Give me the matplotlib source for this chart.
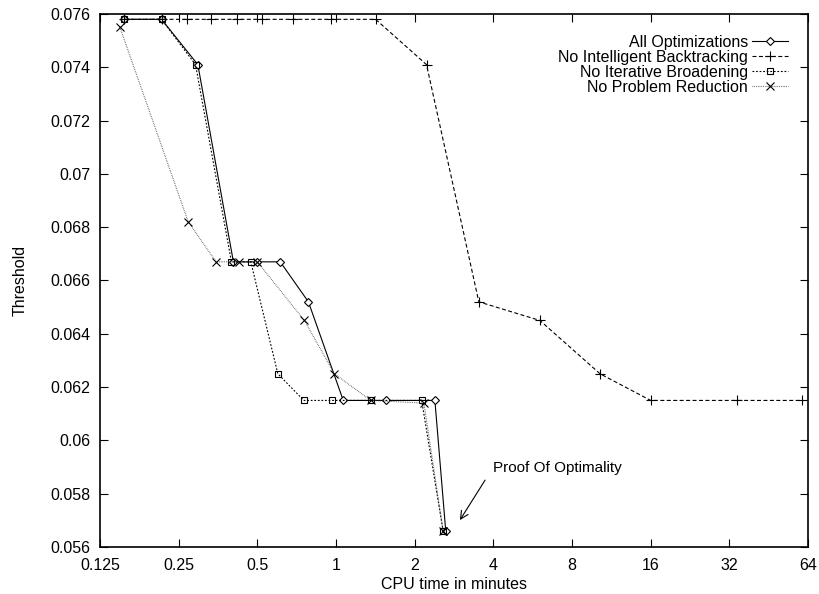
import matplotlib
matplotlib.use("Agg")
import matplotlib.pyplot as plt

plt.rcParams['font.family'] = ['Liberation Sans', 'DejaVu Sans']

# Data
all_opt_t = [0.155, 0.215, 0.296, 0.405, 0.50, 0.612, 0.784, 1.066, 1.56, 2.39, 2.63]
all_opt_v = [0.0758, 0.0758, 0.0741, 0.0667, 0.0667, 0.0667, 0.0652, 0.0615, 0.0615, 0.0615, 0.0566]

nib_t = [0.155, 0.215, 0.270, 0.332, 0.419, 0.522, 0.684, 0.956, 1.418, 2.22, 3.52, 6.03, 10.24, 16.0, 34.1, 60.5]
nib_v = [0.0758, 0.0758, 0.0758, 0.0758, 0.0758, 0.0758, 0.0758, 0.0758, 0.0758, 0.0741, 0.0652, 0.0645, 0.0625, 0.0615, 0.0615, 0.0615]

nibr_t = [0.155, 0.215, 0.290, 0.398, 0.472, 0.599, 0.753, 0.963, 1.358, 2.127, 2.57]
nibr_v = [0.0758, 0.0758, 0.0741, 0.0667, 0.0667, 0.0625, 0.0615, 0.0615, 0.0615, 0.0615, 0.0566]

npr_t = [0.149, 0.272, 0.348, 0.425, 0.50, 0.757, 0.986, 1.358, 2.17, 2.57]
npr_v = [0.0755, 0.0682, 0.0667, 0.0667, 0.0667, 0.0645, 0.0625, 0.0615, 0.0614, 0.0566]

labels = ["All Optimizations", "No Intelligent Backtracking",
          "No Iterative Broadening", "No Problem Reduction"]

x_ticks = [0.125, 0.25, 0.5, 1, 2, 4, 8, 16, 32, 64]
x_tick_labels = ["0.125", "0.25", "0.5", "1", "2", "4", "8", "16", "32", "64"]
y_ticks = [0.056, 0.058, 0.060, 0.062, 0.064, 0.066, 0.068, 0.070, 0.072, 0.074, 0.076]
y_tick_labels = ["0.056", "0.058", "0.06", "0.062", "0.064", "0.066", "0.068", "0.07", "0.072", "0.074", "0.076"]

FS = 11.5

fig = plt.figure(figsize=(8.2, 5.94), dpi=100)
ax = fig.add_axes([100/820, 47/594, 708/820, 533/594])

lw = 0.8
ax.plot(all_opt_t, all_opt_v, color='black', lw=lw, ls='-', marker='D', ms=4.2,
        mfc='white', mec='black', mew=0.8, label=labels[0])
ax.plot(nib_t, nib_v, color='black', lw=lw, ls=(0, (3.6, 2.2)), marker='+', ms=6.5,
        mew=0.8, label=labels[1])
ax.plot(nibr_t, nibr_v, color='black', lw=lw, ls=(0, (1.6, 1.6)), marker='s', ms=5,
        mfc='none', mec='black', mew=0.8, label=labels[2])
ax.plot(npr_t, npr_v, color='#444444', lw=lw, ls=(0, (0.6, 1.0)), marker='x', ms=5.5,
        mec='black', mew=0.8, label=labels[3])

ax.set_xscale('log', base=2)
ax.set_xlim(0.125, 64)
ax.set_ylim(0.056, 0.076)
ax.set_xticks(x_ticks)
ax.set_xticklabels(x_tick_labels)
ax.set_yticks(y_ticks)
ax.set_yticklabels(y_tick_labels)
ax.minorticks_off()
ax.tick_params(direction='in', length=5.5, width=0.8, top=True, right=True,
               labelsize=FS, colors='black')
ax.tick_params(axis='x', pad=8)
ax.tick_params(axis='y', pad=7)
for s in ax.spines.values():
    s.set_linewidth(1.2)

ax.set_xlabel("CPU time in minutes", fontsize=FS, labelpad=3)
ax.set_ylabel("Threshold", fontsize=FS, labelpad=16)

leg = ax.legend(loc='upper right', bbox_to_anchor=((788 - 100) / 708, (547 - 35) / 533),
                frameon=False, markerfirst=False, fontsize=FS, handlelength=2.25,
                handletextpad=0.25, labelspacing=0.0, borderaxespad=0, borderpad=0)
for t in leg.get_texts():
    t.set_ha('right')
leg._legend_box.align = "right"

ax.annotate('', xy=(2.98, 0.05701), xytext=(3.72, 0.05851),
            arrowprops=dict(arrowstyle='->', lw=0.8, color='black',
                            shrinkA=0, shrinkB=0, mutation_scale=14))
ax.text(3.99, 0.05896, "Proof Of Optimality", fontsize=11, ha='left', va='center')

fig.savefig("out.png", dpi=100)
